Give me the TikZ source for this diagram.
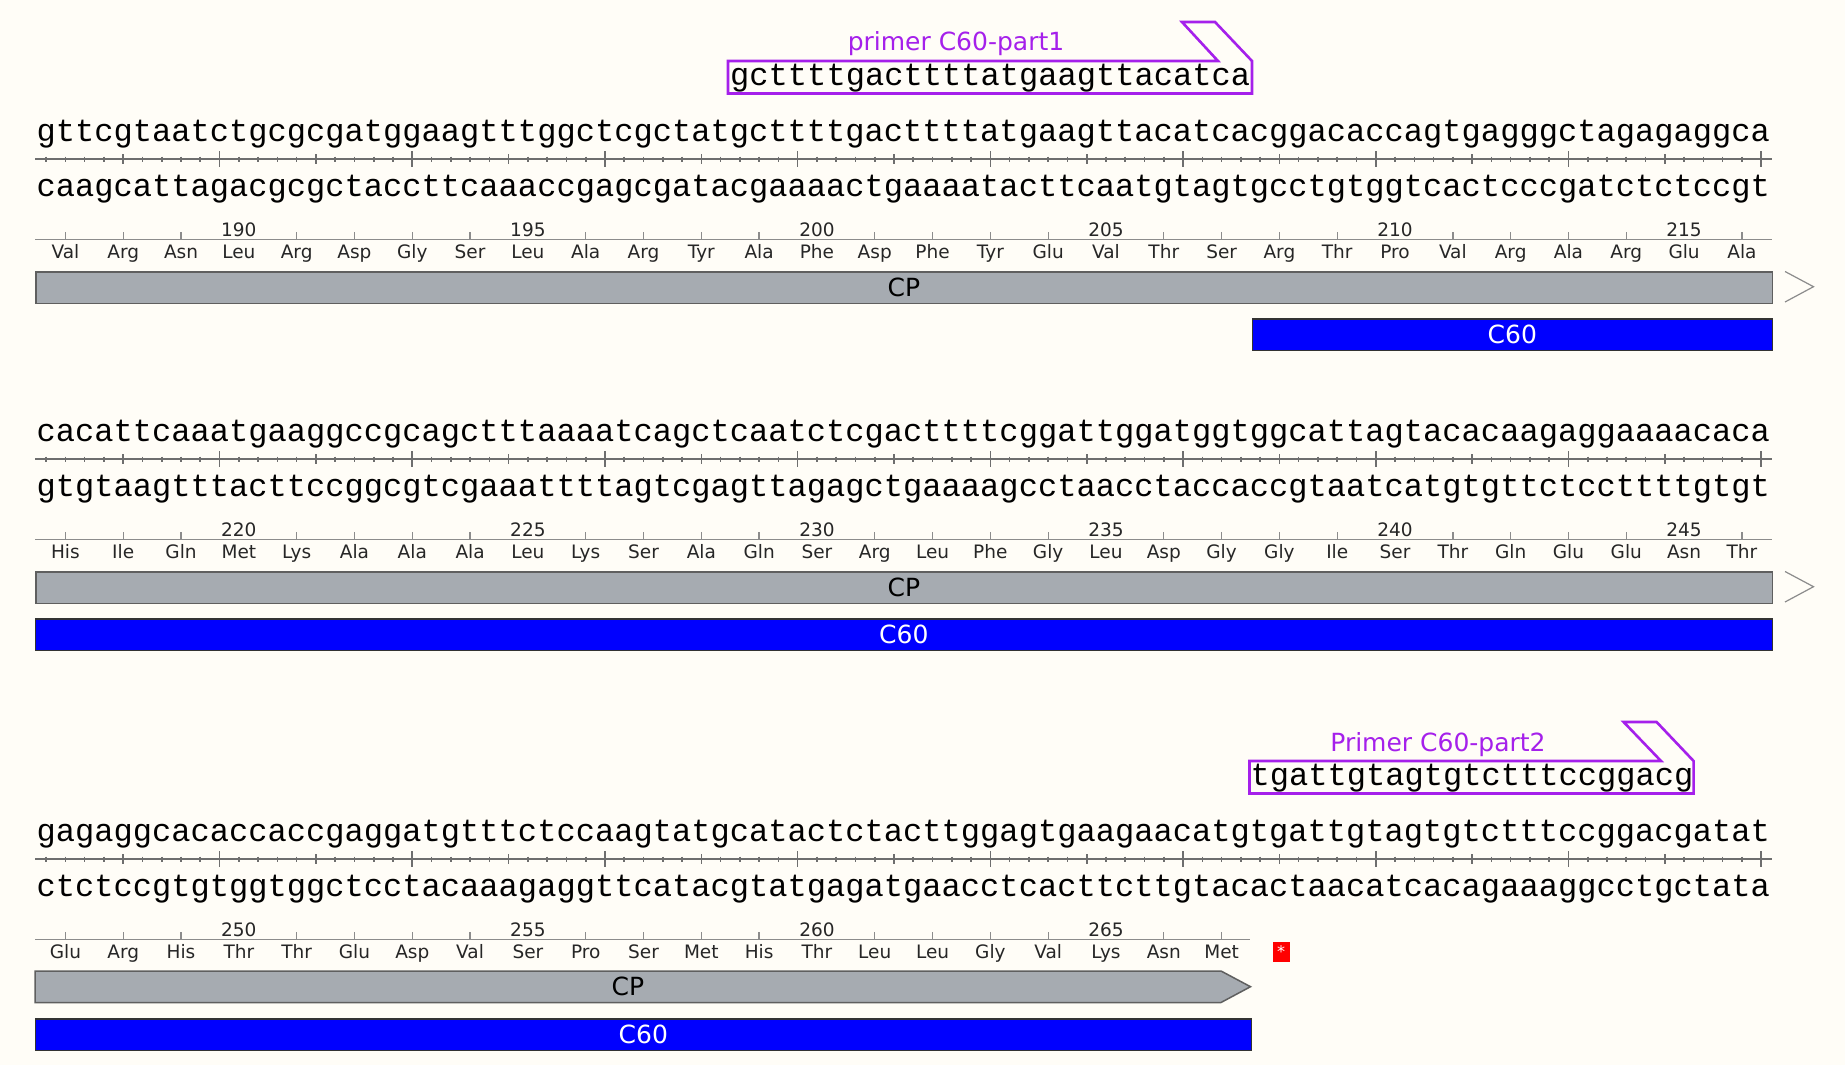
\documentclass[tikz,border=0pt]{standalone}
\usepackage{fontspec}
\setmainfont{DejaVu Sans}
\newfontfamily\seqfont{Liberation Mono}
\usepackage{tikz}
\usetikzlibrary{positioning}

\definecolor{paper}{RGB}{255,253,247}
\definecolor{primerc}{RGB}{165,32,235}
\definecolor{cpgray}{RGB}{166,171,177}
\definecolor{cpedge}{RGB}{95,95,95}
\definecolor{rulegray}{RGB}{110,110,110}
\definecolor{aagray}{RGB}{140,140,140}

\begin{document}
\begin{tikzpicture}[x=1pt,y=-1pt,
	seq/.style={font=\seqfont\fontsize{32.1}{36}\selectfont, inner sep=0pt, outer sep=0pt, anchor=base west},
	aa/.style={font=\fontsize{18.5}{20}\selectfont, text=black!85, inner sep=0pt, anchor=base},
	dnarule/.style={draw=rulegray, line width=2pt},
	aarule/.style={draw=aagray, line width=1.3pt},
	cpbar/.style={fill=cpgray, draw=cpedge, line width=1.5pt},
	c60bar/.style={fill=blue, draw=black!80, line width=1.2pt, text=white},
	barlabel/.style={font=\fontsize{25}{28}\selectfont, inner sep=0pt},
	primer/.style={draw=primerc, line width=2.6pt, line join=miter},
	primerlabel/.style={font=\fontsize{25}{28}\selectfont, text=primerc, inner sep=0pt, anchor=base},
	chevron/.style={draw=aagray, line width=1.2pt},
	stopbox/.style={fill=red, text=white, minimum width=17pt, minimum height=20pt, inner sep=0pt, font=\fontsize{16}{16}\selectfont}]

	\fill[paper] (0,0) rectangle (1845,1065);
	\useasboundingbox (0,0) rectangle (1845,1065);

	% both strands and the ruler between them
	\foreach \row/\dy/\topseq/\botseq in {
		1/0/gttcgtaatctgcgcgatggaagtttggctcgctatgcttttgacttttatgaagttacatcacggacaccagtgagggctagagaggca/caagcattagacgcgctaccttcaaaccgagcgatacgaaaactgaaaatacttcaatgtagtgcctgtggtcactcccgatctctccgt,
		2/300/cacattcaaatgaaggccgcagctttaaaatcagctcaatctcgacttttcggattggatggtggcattagtacacaagaggaaaacaca/gtgtaagtttacttccggcgtcgaaattttagtcgagttagagctgaaaagcctaacctaccaccgtaatcatgtgttctccttttgtgt,
		3/700/gagaggcacaccaccgaggatgtttctccaagtatgcatactctacttggagtgaagaacatgtgattgtagtgtctttccggacgatat/ctctccgtgtggtggctcctacaaagaggttcatacgtatgagatgaacctcacttcttgtacactaacatcacagaaaggcctgctata}{
		\begin{scope}[shift={(0,\dy)}]
			\node[seq] (top\row) at (36.5,141.3) {\topseq};
			\node[seq] (bot\row) at (36.5,196) {\botseq};
			\draw[dnarule] (35,159) -- (1772,159);
			\foreach \i in {1,...,90}{
				\pgfmathsetmacro\tx{36.5+(\i-0.5)*19.27}
				\pgfmathsetmacro\ta{mod(\i,10)==0 ? 8 : (mod(\i,5)==0 ? 5 : 2.5)}
				\draw[dnarule, line width=1.6pt] (\tx,159-\ta) -- (\tx,159+\ta);
			}
		\end{scope}
	}

	% row 1
	\node[primerlabel] (p1lab) at (956,51) {primer C60-part1};
	\node[seq] (p1seq) at (730.2,85) {gcttttgacttttatgaagttacatca};
	\draw[primer] (728,61) -- (1218,61) -- (1182,22) -- (1215,22) -- (1252,61) -- (1252,93.5) -- (728,93.5) -- cycle;

	\draw[aarule] (35,239.3) -- (1772,239.3);
	\foreach \a [count=\k from 0] in {Val,Arg,Asn,Leu,Arg,Asp,Gly,Ser,Leu,Ala,Arg,Tyr,Ala,Phe,Asp,Phe,Tyr,Glu,Val,Thr,Ser,Arg,Thr,Pro,Val,Arg,Ala,Arg,Glu,Ala}{
		\pgfmathsetmacro\ax{36.5+(3*\k+1.5)*19.27}
		\pgfmathtruncatemacro\km{mod(\k,5)}
		\node[aa] (aa1-\k) at (\ax,258.3) {\a};
		\ifnum\km=3
			\pgfmathtruncatemacro\n{187+\k}
			\node[aa] (n1-\k) at (\ax,236.7) {\n};
		\else
			\draw[aarule] (\ax,232) -- (\ax,239.3);
		\fi
	}
	\node[cpbar, barlabel, anchor=north west, minimum width=1736.5pt, minimum height=31.5pt] (cp1) at (35,271) {CP};
	\draw[chevron] (1785,271.5) -- (1813.5,286.7) -- (1785,302);
	\node[c60bar, barlabel, anchor=north west, minimum width=519.5pt, minimum height=31.7pt] (c60-1) at (1252,318.3) {C60};

	% row 2
	\begin{scope}[shift={(0,300)}]
		\draw[aarule] (35,239.3) -- (1772,239.3);
		\foreach \a [count=\k from 0] in {His,Ile,Gln,Met,Lys,Ala,Ala,Ala,Leu,Lys,Ser,Ala,Gln,Ser,Arg,Leu,Phe,Gly,Leu,Asp,Gly,Gly,Ile,Ser,Thr,Gln,Glu,Glu,Asn,Thr}{
			\pgfmathsetmacro\ax{36.5+(3*\k+1.5)*19.27}
			\pgfmathtruncatemacro\km{mod(\k,5)}
			\node[aa] (aa2-\k) at (\ax,258.3) {\a};
			\ifnum\km=3
				\pgfmathtruncatemacro\n{217+\k}
				\node[aa] (n2-\k) at (\ax,236.7) {\n};
			\else
				\draw[aarule] (\ax,232) -- (\ax,239.3);
			\fi
		}
		\node[cpbar, barlabel, anchor=north west, minimum width=1736.5pt, minimum height=31.5pt] (cp2) at (35,271) {CP};
		\draw[chevron] (1785,271.5) -- (1813.5,286.7) -- (1785,302);
		\node[c60bar, barlabel, anchor=north west, minimum width=1736.5pt, minimum height=31.7pt] (c60-2) at (35,318.3) {C60};
	\end{scope}

	% row 3
	\begin{scope}[shift={(0,700)}]
		\node[primerlabel] (p2lab) at (1438,51) {Primer C60-part2};
		\node[seq] (p2seq) at (1250.5,85) {tgattgtagtgtctttccggacg};
		\draw[primer] (1249.5,61) -- (1661,61) -- (1623.6,22) -- (1656.6,22) -- (1693.6,61) -- (1693.6,93.5) -- (1249.5,93.5) -- cycle;

		\draw[aarule] (35,239.3) -- (1250,239.3);
		\foreach \a [count=\k from 0] in {Glu,Arg,His,Thr,Thr,Glu,Asp,Val,Ser,Pro,Ser,Met,His,Thr,Leu,Leu,Gly,Val,Lys,Asn,Met}{
			\pgfmathsetmacro\ax{36.5+(3*\k+1.5)*19.27}
			\pgfmathtruncatemacro\km{mod(\k,5)}
			\node[aa] (aa3-\k) at (\ax,258.3) {\a};
			\ifnum\km=3
				\pgfmathtruncatemacro\n{247+\k}
				\node[aa] (n3-\k) at (\ax,236.7) {\n};
			\else
				\draw[aarule] (\ax,232) -- (\ax,239.3);
			\fi
		}
		\node[stopbox] (stop3) at (1281,251.7) {*};
		\draw[cpbar] (35,271) -- (1221,271) -- (1250.5,286.7) -- (1221,302.5) -- (35,302.5) -- cycle;
		\node[barlabel] (cp3) at (628,286.7) {CP};
		\node[c60bar, barlabel, anchor=north west, minimum width=1215.5pt, minimum height=31.7pt] (c60-3) at (35,318.3) {C60};
	\end{scope}
\end{tikzpicture}
\end{document}
